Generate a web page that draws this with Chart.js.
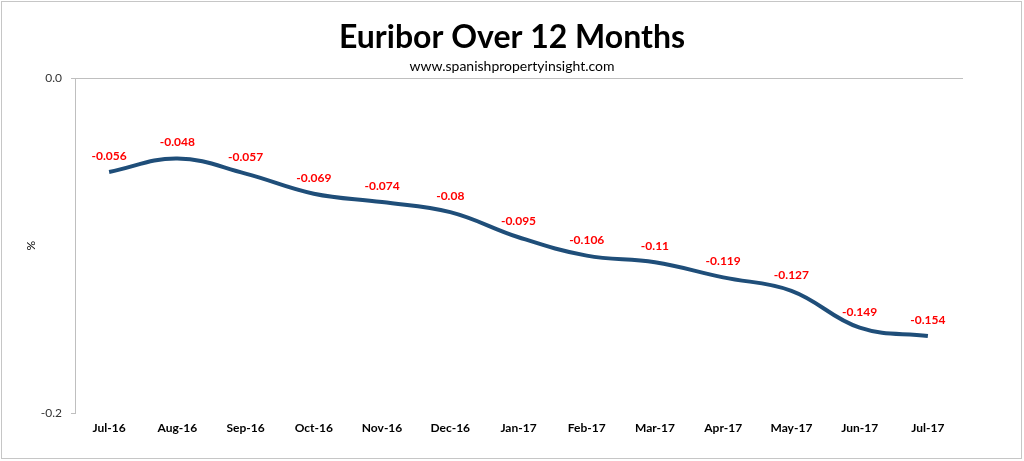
<!DOCTYPE html>
<html>
<head>
<meta charset="utf-8">
<script src="https://cdn.jsdelivr.net/npm/chart.js@4"></script>
<style>
  html, body { margin: 0; padding: 0; background: #fff; }
  #wrap { width: 1024px; height: 461px; position: relative; }
</style>
</head>
<body>
<div id="wrap"><canvas id="myChart" width="1024" height="461"></canvas></div>
<script>
// chart data
const months = ["Jul-16", "Aug-16", "Sep-16", "Oct-16", "Nov-16", "Dec-16", "Jan-17",
  "Feb-17", "Mar-17", "Apr-17", "May-17", "Jun-17", "Jul-17"];
const euribor = [-0.056, -0.048, -0.057, -0.069, -0.074, -0.08, -0.095,
  -0.106, -0.11, -0.119, -0.127, -0.149, -0.154];
const yTicks = [0, -0.2];

const FONT = "Lato, 'Open Sans', sans-serif";

// red value labels above each point
const valueLabels = {
  id: "valueLabels",
  afterDatasetsDraw(chart) {
    const ctx = chart.ctx;
    const meta = chart.getDatasetMeta(0);
    ctx.save();
    ctx.font = "bold 12px " + FONT;
    ctx.fillStyle = "#ff0000";
    ctx.textAlign = "center";
    ctx.textBaseline = "middle";
    meta.data.forEach((pt, i) => {
      ctx.fillText(String(euribor[i]), pt.x, pt.y - 16);
    });
    ctx.restore();
  }
};

// light grey frame round the whole chart
const outerFrame = {
  id: "outerFrame",
  beforeDraw(chart) {
    const ctx = chart.ctx;
    ctx.save();
    ctx.fillStyle = "#fff";
    ctx.fillRect(0, 0, chart.width, chart.height);
    ctx.strokeStyle = "#c6c6c6";
    ctx.lineWidth = 1;
    ctx.strokeRect(1.5, 1.5, 1020, 457);
    ctx.restore();
  }
};

new Chart(document.getElementById("myChart"), {
  type: "line",
  data: {
    labels: months,
    datasets: [{
      label: "Euribor",
      data: euribor,
      borderColor: "#1f4e79",
      borderWidth: 4,
      tension: 0.4,
      pointRadius: 0,
      fill: false
    }]
  },
  options: {
    responsive: false,
    animation: false,
    layout: { padding: 0 },
    plugins: {
      legend: { display: false },
      tooltip: { enabled: false },
      title: {
        display: true,
        text: "Euribor Over 12 Months",
        color: "#000",
        font: { family: FONT, size: 32, weight: "bold" },
        padding: { top: 18, bottom: 2 }
      },
      subtitle: {
        display: true,
        text: "www.spanishpropertyinsight.com",
        color: "#000",
        font: { family: FONT, size: 14 },
        padding: { top: 0, bottom: 3 }
      }
    },
    scales: {
      x: {
        position: "bottom",
        offset: true,
        grid: { display: false, drawTicks: false },
        border: { display: false },
        ticks: {
          color: "#000",
          font: { family: FONT, size: 12, weight: "bold" },
          padding: 8,
          maxRotation: 0,
          autoSkip: false
        },
        afterFit(s) { s.height = 48; }
      },
      xTop: {
        position: "top",
        offset: true,
        grid: { display: false, drawTicks: false },
        border: { display: true, color: "#bfbfbf", width: 1 },
        ticks: { display: false },
        afterFit(s) { s.height = 0; }
      },
      y: {
        min: -0.2,
        max: 0,
        grid: { display: true, drawOnChartArea: false, tickLength: 4, color: "#bfbfbf" },
        border: { display: true, color: "#bfbfbf", width: 1 },
        afterBuildTicks(s) { s.ticks = yTicks.map(v => ({ value: v })); },
        ticks: {
          color: "#333",
          font: { family: FONT, size: 12 },
          padding: 9,
          callback: (v) => Number(v).toFixed(1)
        },
        title: {
          display: true,
          text: "%",
          color: "#000",
          font: { family: FONT, size: 12 },
          padding: { top: 24, bottom: 0 }
        },
        afterFit(s) { s.width = 75; }
      },
      // empty right-hand spacer so the titles stay centred on the page
      yRight: {
        position: "right",
        min: -0.2,
        max: 0,
        grid: { display: false, drawTicks: false },
        border: { display: false },
        ticks: { display: false },
        afterFit(s) { s.width = 62; }
      }
    }
  },
  plugins: [outerFrame, valueLabels]
});
</script>
</body>
</html>
